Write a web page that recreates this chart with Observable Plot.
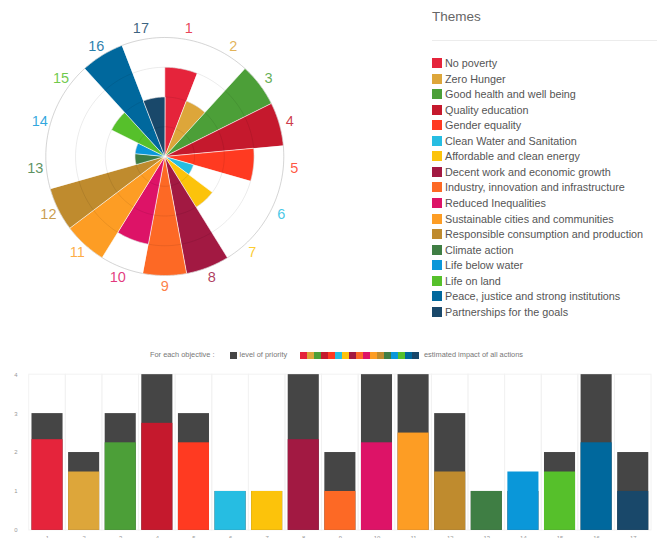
<!DOCTYPE html>
<html><head><meta charset="utf-8">
<script src="https://cdn.jsdelivr.net/npm/d3@7"></script>
<script src="https://cdn.jsdelivr.net/npm/@observablehq/plot@0.6"></script>
<style>
html,body{margin:0;padding:0;background:#fff;overflow:hidden;width:657px;height:538px;font-family:"Liberation Sans",Arial,sans-serif;}
#root{position:relative;width:657px;height:538px;overflow:hidden;}
.abs{position:absolute;}
#themesTitle{left:432px;top:8px;font-size:13.5px;color:#666;line-height:18px;}
#themesRule{left:432px;top:40px;width:225px;height:1px;background:#ececec;}
.leg{position:absolute;left:432px;height:12px;font-size:10.8px;color:#555;line-height:12px;white-space:nowrap;}
.leg i{display:inline-block;width:10px;height:10px;vertical-align:top;margin-top:1px;margin-right:3px;}
#barLegend{left:0;top:350px;width:657px;height:10px;font-size:7.4px;color:#777;line-height:10px;white-space:nowrap;}
#barLegend span,#barLegend i{position:absolute;top:0;}
#barLegend i{width:7px;height:7px;top:1.5px;}
</style></head><body><div id="root">
<div id="polar" class="abs" style="left:0;top:0"></div>
<div id="themesTitle" class="abs">Themes</div>
<div id="themesRule" class="abs"></div>
<div id="legend"></div>
<div id="barLegend" class="abs"></div>
<div id="bars" class="abs" style="left:0;top:362px"></div>
</div>
<script>
const goals = ["1","2","3","4","5","6","7","8","9","10","11","12","13","14","15","16","17"];
const themes = ["No poverty","Zero Hunger","Good health and well being","Quality education","Gender equality","Clean Water and Sanitation","Affordable and clean energy","Decent work and economic growth","Industry, innovation and infrastructure","Reduced Inequalities","Sustainable cities and communities","Responsible consumption and production","Climate action","Life below water","Life on land","Peace, justice and strong institutions","Partnerships for the goals"];
const colors = ["#E5243B","#DDA63A","#4C9F38","#C5192D","#FF3A21","#26BDE2","#FCC30B","#A21942","#FD6925","#DD1367","#FD9D24","#BF8B2E","#3F7E44","#0A97D9","#56C02B","#00689D","#19486A"];
const polarValues = [3,2,4,4,3,1,2,4,4,3,4,4,1,1,2,4,2];
const priority = [3,2,3,4,3,1,1,4,2,4,4,3,1,1,2,4,2];
const impact = [2.33,1.5,2.25,2.75,2.25,1,1,2.33,1,2.25,2.5,1.5,1,1.5,1.5,2.25,1];
const rTicks = [1,2,3,4];
const yTicks = [0,1,2,3,4];
const barLegendText = ["For each objective :","level of priority","estimated impact of all actions"];

const n = goals.length;
const step = 2*Math.PI/n;
// polar wedges as closed polygons in data units
const wedgePts = [];
goals.forEach((g,i)=>{
  const a0=i*step, a1=(i+1)*step, r=polarValues[i];
  wedgePts.push({g, x:0, y:0});
  for(let s=0;s<=30;s++){const a=a0+(a1-a0)*s/30; wedgePts.push({g, x:r*Math.sin(a), y:r*Math.cos(a)});}
});
const ringPts = [];
rTicks.forEach(r=>{for(let s=0;s<180;s++){const a=s/180*2*Math.PI; ringPts.push({r, x:r*Math.sin(a), y:r*Math.cos(a)});}});
const labelR = 4.37;
const labelPts = goals.map((g,i)=>({g, x:labelR*Math.sin((i+0.5)*step), y:labelR*Math.cos((i+0.5)*step)}));

const unit = 29.75, cx = 164.3, cy = 156, W = 330, H = 300;
const polar = Plot.plot({
  width: W, height: H, margin: 0,
  x: {domain: [-cx/unit, (W-cx)/unit], axis: null},
  y: {domain: [-(H-cy)/unit, cy/unit], axis: null},
  color: {domain: goals, range: colors},
  style: {background: "transparent", fontFamily: "'Liberation Sans', Arial, sans-serif"},
  marks: [
    Plot.line(ringPts.filter(d=>d.r===4), {x:"x", y:"y", z:"r", curve:"linear-closed", stroke:"#e8e8e8", strokeWidth:1}),
    Plot.line(wedgePts, {x:"x", y:"y", z:"g", fill:"g", curve:"linear-closed", stroke:"white", strokeWidth:0.6}),
    Plot.line(ringPts, {x:"x", y:"y", z:"r", curve:"linear-closed", stroke:"#000", strokeOpacity:0.08, strokeWidth:1}),
    Plot.text(labelPts, {x:"x", y:"y", text:"g", fill:"g", fontSize:14.5, fillOpacity:0.85})
  ]
});
document.getElementById("polar").appendChild(polar);

// legend
const legend = document.getElementById("legend");
themes.forEach((t,i)=>{
  const d=document.createElement("div"); d.className="leg";
  d.style.top=(63.3 + i*15.52 - 6)+"px";
  d.innerHTML=`<i style="background:${colors[i]}"></i>${t}`;
  legend.appendChild(d);
});

// bar legend
const bl = document.getElementById("barLegend");
bl.innerHTML = `<span style="left:150px">${barLegendText[0]}</span><i style="left:230px;background:#454545"></i><span style="left:239.5px">${barLegendText[1]}</span>` +
  colors.map((c,i)=>`<i style="left:${299.5+i*7.06}px;background:${c}"></i>`).join("") +
  `<span style="left:424px">${barLegendText[2]}</span>`;

const bars = Plot.plot({
  width: 664, height: 190,
  marginLeft: 24.2, marginRight: 0.6, marginTop: 12.3, marginBottom: 20.3,
  x: {domain: goals, padding: 0, tickSize: 0, tickPadding: 5, label: null},
  y: {domain: [0,4], ticks: yTicks, tickFormat: d3.format("d"), tickSize: 0, tickPadding: 7, label: null},
  color: {domain: goals, range: colors},
  style: {background: "transparent", fontSize: "6px", color: "#999", fontFamily: "'Liberation Sans', Arial, sans-serif"},
  marks: [
    Plot.barY(goals, {x: d=>d, y1: 0, y2: 4, fill: "none", stroke: "#f2f2f2", strokeWidth: 1}),
    Plot.barY(goals, {x: d=>d, y: (d,i)=>priority[i], fill: "#454545", insetLeft: 2.8, insetRight: 2.8}),
    Plot.barY(goals, {x: d=>d, y: (d,i)=>impact[i], fill: d=>d, insetLeft: 2.8, insetRight: 2.8})
  ]
});
document.getElementById("bars").appendChild(bars);
</script>
</body></html>
